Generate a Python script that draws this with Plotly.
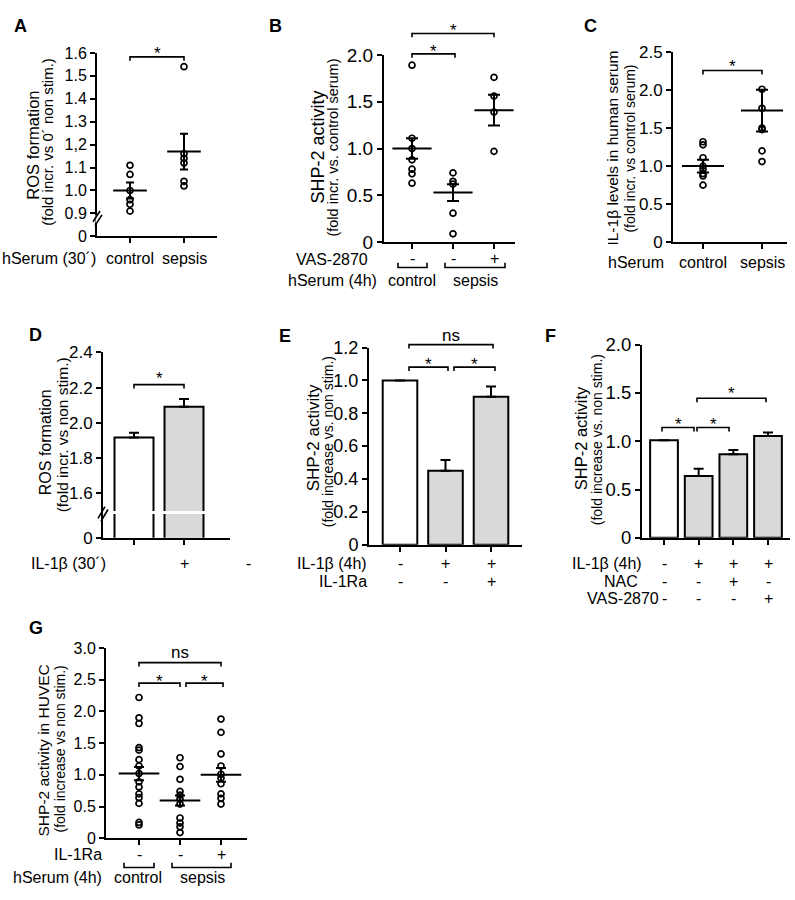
import plotly.graph_objects as go

W, H = 795, 900
FONT = "Liberation Sans, Arial, Helvetica, sans-serif"

# ---------------- data ----------------
# Panel A: ROS formation, hSerum 30'
A_categories = ["control", "sepsis"]
A_control = [1.11, 1.07, 1.00, 0.96, 0.94, 0.91]
A_sepsis = [1.54, 1.16, 1.14, 1.12, 1.04, 1.02]
A_mean = [1.00, 1.17]
A_sem = [0.035, 0.078]
A_yticks = [0.8, 0.9, 1.0, 1.1, 1.2, 1.3, 1.4, 1.5, 1.6]
A_yticktext = ["0", "0.9", "1.0", "1.1", "1,2", "1.3", "1.4", "1.5", "1.6"]

# Panel B: SHP-2 activity, hSerum 4h
B_groups = ["control", "sepsis"]
B_vas_signs = ["-", "-", "+"]
B_control = [1.89, 1.11, 1.00, 0.88, 0.78, 0.73, 0.63]
B_sepsis = [0.74, 0.65, 0.62, 0.31, 0.09]
B_sepsis_vas = [1.76, 1.56, 1.39, 0.97]
B_mean = [1.00, 0.53, 1.41]
B_sem = [0.11, 0.09, 0.165]
B_yticks = [0, 0.5, 1.0, 1.5, 2.0]
B_yticktext = ["0", "0.5", "1.0", "1.5", "2.0"]

# Panel C: IL-1beta levels in human serum
C_categories = ["control", "sepsis"]
C_control = [1.32, 1.28, 1.11, 1.00, 0.96, 0.90, 0.87, 0.75]
C_sepsis = [2.01, 1.76, 1.50, 1.48, 1.20, 1.06]
C_mean = [1.00, 1.73]
C_sem = [0.085, 0.275]
C_yticks = [0, 0.5, 1.0, 1.5, 2.0, 2.5]
C_yticktext = ["0", "0.5", "1.0", "1.5", "2.0", "2.5"]

# Panel D: ROS formation, IL-1beta 30'
D_values = [1.915, 2.09]
D_sem = [0.028, 0.045]
D_il1b_signs = ["", "+"]
D_yticks = [1.344, 1.6, 1.8, 2.0, 2.2, 2.4]
D_yticktext = ["0", "1.6", "1.8", "2.0", "2.2", "2.4"]

# Panel E: SHP-2 activity, IL-1beta / IL-1Ra
E_values = [1.00, 0.45, 0.90]
E_sem = [0.0, 0.066, 0.063]
E_il1b_signs = ["-", "+", "+"]
E_il1ra_signs = ["-", "-", "+"]
E_yticks = [0, 0.2, 0.4, 0.6, 0.8, 1.0, 1.2]
E_yticktext = ["0", "0.2", "0.4", "0.6", "0.8", "1.0", "1.2"]

# Panel F: SHP-2 activity, IL-1beta / NAC / VAS-2870
F_values = [1.01, 0.64, 0.865, 1.055]
F_sem = [0.0, 0.075, 0.045, 0.035]
F_il1b_signs = ["-", "+", "+", "+"]
F_nac_signs = ["-", "-", "+", "-"]
F_vas_signs = ["-", "-", "-", "+"]
F_yticks = [0, 0.5, 1.0, 1.5, 2.0]
F_yticktext = ["0", "0.5", "1.0", "1.5", "2.0"]

# Panel G: SHP-2 activity in HUVEC
G_control = [2.22, 1.90, 1.81, 1.43, 1.39, 1.24, 1.14, 1.02, 0.89, 0.81, 0.70, 0.64, 0.55, 0.25, 0.21]
G_sepsis = [1.27, 1.13, 0.93, 0.74, 0.68, 0.62, 0.54, 0.32, 0.24, 0.18, 0.09]
G_sepsis_ra = [1.88, 1.67, 1.33, 1.14, 1.01, 0.95, 0.86, 0.70, 0.63, 0.54]
G_mean = [1.02, 0.595, 1.00]
G_sem = [0.105, 0.08, 0.11]
G_ra_signs = ["-", "-", "+"]
G_groups = ["control", "sepsis"]
G_yticks = [0, 0.5, 1.0, 1.5, 2.0, 2.5, 3.0]
G_yticktext = ["0", "0.5", "1.0", "1.5", "2.0", "2.5", "3.0"]

WHITE = "white"
GREY = "#d9d9d9"

fig = go.Figure()


def setup_axes(n, x0, x1, ytop, ybot, cats, yr, tickvals, ticktext, fs=16):
    k = len(cats)
    unit = (cats[-1] - cats[0]) / (k - 1)
    xr = [(x0 - cats[0]) / unit, (x1 - cats[0]) / unit]
    sx = "" if n == 1 else str(n)
    common = dict(showgrid=False, zeroline=False, showline=True, linewidth=2,
                  linecolor="black", ticks="outside", ticklen=5, tickwidth=2,
                  tickcolor="black", fixedrange=True)
    fig.update_layout(**{
        "xaxis" + sx: dict(domain=[x0 / W, x1 / W], range=xr, anchor="y" + sx,
                           tickvals=list(range(k)), showticklabels=False, **common),
        "yaxis" + sx: dict(domain=[1 - ybot / H, 1 - ytop / H], range=yr, anchor="x" + sx,
                           tickvals=tickvals, ticktext=ticktext,
                           tickfont=dict(size=fs, family=FONT, color="black"), **common),
    })
    return "x" + sx, "y" + sx


def dots(xa, ya, idx, vals):
    fig.add_trace(go.Scatter(
        x=[idx] * len(vals), y=vals, mode="markers", xaxis=xa, yaxis=ya,
        marker=dict(symbol="circle-open", size=6, color="black", line=dict(width=1.7)),
        showlegend=False, cliponaxis=False, hoverinfo="skip"))


def mean_sem(xa, ya, means, sems, cap=5, wid=26):
    fig.add_trace(go.Scatter(
        x=list(range(len(means))), y=means, mode="markers", xaxis=xa, yaxis=ya,
        marker=dict(symbol="line-ew-open", size=wid, color="black",
                    line=dict(width=2, color="black")),
        error_y=dict(type="data", array=sems, color="black", thickness=2, width=cap),
        showlegend=False, cliponaxis=False, hoverinfo="skip"))


def bars(xa, ya, vals, sems, colors, width):
    fig.add_trace(go.Bar(
        x=list(range(len(vals))), y=vals, width=width, xaxis=xa, yaxis=ya,
        marker=dict(color=colors, line=dict(color="black", width=2)),
        error_y=dict(type="data", array=sems, arrayminus=[0] * len(sems), symmetric=False,
                     color="black", thickness=2, width=5),
        showlegend=False, hoverinfo="skip"))


def text(x, y, s, size=16, xanchor="center", bold=False, angle=0, xref="paper"):
    fig.add_annotation(
        x=x / W if xref == "paper" else x, y=1 - y / H, xref=xref, yref="paper",
        text="<b>%s</b>" % s if bold else s, showarrow=False, xanchor=xanchor,
        yanchor="middle", textangle=angle, borderpad=0,
        font=dict(size=size, family=FONT, color="black"))


def line(x0, y0, x1, y1, color="black", width=1.6):
    fig.add_shape(type="line", xref="paper", yref="paper", x0=x0 / W, y0=1 - y0 / H,
                  x1=x1 / W, y1=1 - y1 / H, line=dict(color=color, width=width), layer="above")


def sig(x0, x1, y, label, ly, size=17):
    pts = [(x0, y + 4), (x0, y), (x1, y), (x1, y + 4)]
    path = "M " + " L ".join("%f,%f" % (px / W, 1 - py / H) for px, py in pts)
    fig.add_shape(type="path", path=path, xref="paper", yref="paper",
                  line=dict(color="black", width=1.6), layer="above")
    text((x0 + x1) / 2, ly, label, size=size)


def group(x0, x1, ytop, ybot):
    pts = [(x0, ytop), (x0, ybot), (x1, ybot), (x1, ytop)]
    path = "M " + " L ".join("%f,%f" % (px / W, 1 - py / H) for px, py in pts)
    fig.add_shape(type="path", path=path, xref="paper", yref="paper",
                  line=dict(color="black", width=1.6), layer="above")


def ytitle(x1, y1, t1, x2, y2, t2, s1=16, s2=14):
    text(x1, y1, t1, size=s1, angle=-90)
    text(x2, y2, t2, size=s2, angle=-90)


def signs(xa, y, labels, size=16):
    for i, s in enumerate(labels):
        if s:
            text(i, y, s, size=size, xref=xa)


# ---------------- Panel A ----------------
xa, ya = setup_axes(1, 97, 217, 43, 231, [130, 184], [0.8, 1.6], A_yticks, A_yticktext, fs=16)
dots(xa, ya, 0, A_control)
dots(xa, ya, 1, A_sepsis)
mean_sem(xa, ya, A_mean, A_sem, cap=4, wid=24)
text(20, 15, "A", size=18, bold=True)
ytitle(33, 138, "ROS formation", 48, 134, "(fold incr. vs 0´ non stim.)", 16.5, 15)
sig(130, 184, 47, "*", 44)
text(97, 254, "hSerum (30´)", xanchor="right")
for i, c in enumerate(A_categories):
    text(i, 254, c, xref=xa)
line(97, 209, 97, 217, color=WHITE, width=3)
line(93, 216, 100, 205)
line(95, 220, 102, 209)

# ---------------- Panel B ----------------
xa, ya = setup_axes(2, 384, 515, 45, 237, [412, 455, 494], [0, 2.0], B_yticks, B_yticktext, fs=19)
dots(xa, ya, 0, B_control)
dots(xa, ya, 1, B_sepsis)
dots(xa, ya, 2, B_sepsis_vas)
mean_sem(xa, ya, B_mean, B_sem, cap=6, wid=28)
text(275, 15, "B", size=18, bold=True)
ytitle(318, 140, "SHP-2 activity", 333, 140, "(fold incr. vs. control serum)", 18, 14.5)
sig(412, 455, 44, "*", 42)
sig(412, 494, 23, "*", 20)
text(369, 255, "VAS-2870", xanchor="right")
signs(xa, 254, B_vas_signs)
group(398, 427, 258, 263)
group(445, 505, 258, 263)
text(378, 276, "hSerum (4h)", xanchor="right")
text(412, 276, B_groups[0])
text(475, 276, B_groups[1])

# ---------------- Panel C ----------------
xa, ya = setup_axes(3, 673, 787, 42, 237, [703, 762], [0, 2.5], C_yticks, C_yticktext, fs=17)
dots(xa, ya, 0, C_control)
dots(xa, ya, 1, C_sepsis)
mean_sem(xa, ya, C_mean, C_sem, cap=6, wid=30)
text(590, 15, "C", size=18, bold=True)
ytitle(613, 141, "IL-1β levels in human serum", 630, 141, "(fold incr. vs control serum)", 15.5, 14)
sig(703, 762, 61, "*", 57)
text(665, 258, "hSerum", xanchor="right")
for i, c in enumerate(C_categories):
    text(i, 258, c, xref=xa)

# ---------------- Panel D ----------------
xa, ya = setup_axes(4, 103, 230, 350, 540, [134, 184], [1.344, 2.4], D_yticks, D_yticktext, fs=17)
bars(xa, ya, D_values, D_sem, [WHITE, GREY], 0.78)
text(35, 332, "D", size=18, bold=True)
ytitle(45, 442, "ROS formation", 62, 435, "(fold incr. vs non stim.)", 16, 15.5)
sig(134, 184, 383, "*", 377)
line(103, 514, 205, 514, color=WHITE, width=3)
line(98, 520, 105, 508)
line(101, 523, 108, 511)
text(107, 566, "IL-1β (30´)", xanchor="right")
signs(xa, 566, D_il1b_signs)
text(248, 566, "-")

# ---------------- Panel E ----------------
xa, ya = setup_axes(5, 369, 522, 345, 547, [400, 446, 491], [0, 1.2], E_yticks, E_yticktext, fs=18)
bars(xa, ya, E_values, E_sem, [WHITE, GREY, GREY], 0.76)
text(285, 333, "E", size=18, bold=True)
ytitle(313, 438, "SHP-2 activity", 328, 442, "(fold increase vs. non stim.)", 17, 14)
sig(409, 493, 342, "ns", 333)
sig(409, 448, 365, "*", 362)
sig(454, 495, 365, "*", 362)
text(368, 566, "IL-1β (4h)", xanchor="right")
signs(xa, 566, E_il1b_signs)
text(368, 585, "IL-1Ra", xanchor="right")
signs(xa, 585, E_il1ra_signs)

# ---------------- Panel F ----------------
xa, ya = setup_axes(6, 642, 790, 342, 540, [664, 698, 733, 768], [0, 2.0], F_yticks, F_yticktext, fs=18.5)
bars(xa, ya, F_values, F_sem, [WHITE, GREY, GREY, GREY], 0.8)
text(550, 333, "F", size=18, bold=True)
ytitle(581, 438, "SHP-2 activity", 597, 440, "(fold increase vs. non stim.)", 16.5, 14)
sig(662, 694, 427, "*", 424)
sig(697, 729, 427, "*", 424)
sig(697, 766, 397, "*", 392)
text(643, 566, "IL-1β (4h)", xanchor="right")
signs(xa, 566, F_il1b_signs)
text(639, 585, "NAC", xanchor="right")
signs(xa, 585, F_nac_signs)
text(660, 602, "VAS-2870", xanchor="right")
signs(xa, 602, F_vas_signs)

# ---------------- Panel G ----------------
xa, ya = setup_axes(7, 106, 247, 653, 848, [139, 182, 221], [0, 3.0], G_yticks, G_yticktext, fs=16)
dots(xa, ya, 0, G_control)
dots(xa, ya, 1, G_sepsis)
dots(xa, ya, 2, G_sepsis_ra)
mean_sem(xa, ya, G_mean, G_sem, cap=5, wid=29)
text(36, 632, "G", size=18, bold=True)
ytitle(43, 758, "SHP-2 activity in HUVEC", 60, 757, "(fold increase vs non stim.)", 15.5, 14)
sig(139, 221, 668, "ns", 658)
sig(139, 180, 689, "*", 687)
sig(186, 223, 689, "*", 687)
text(103, 865, "IL-1Ra", xanchor="right")
signs(xa, 865, G_ra_signs)
group(124, 154, 873, 878)
group(172, 231, 873, 878)
text(103, 888, "hSerum (4h)", xanchor="right")
text(138, 888, G_groups[0])
text(202, 888, G_groups[1])

fig.update_layout(width=W, height=H, margin=dict(l=0, r=0, t=0, b=0),
                  paper_bgcolor="white", plot_bgcolor="white",
                  font=dict(family=FONT, color="black"), showlegend=False)

fig.write_html("out.html", config={"displayModeBar": False, "staticPlot": True},
               post_script="document.body.style.margin='0px';"
                           "document.body.style.overflow='hidden';"
                           "document.documentElement.style.overflow='hidden';")
